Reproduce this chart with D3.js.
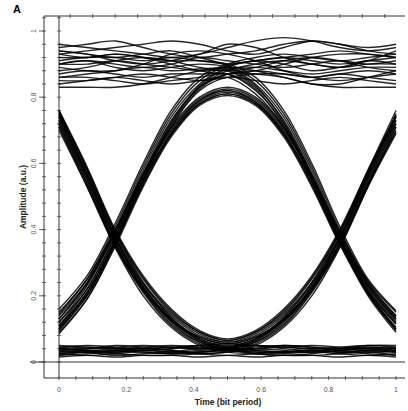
<!DOCTYPE html>
<html>
<head>
<meta charset="utf-8">
<script src="https://d3js.org/d3.v7.min.js"></script>
<style>
    body { margin: 0; background: white; }
    .frame { stroke: #333; stroke-width: 1px; fill: none; }
    .tick { stroke: #444; stroke-width: 0.8px; }
    .lbl { font-family: "Liberation Sans", Arial, sans-serif; font-size: 7px; fill: #555; }
    .title { font-family: "Liberation Sans", Arial, sans-serif; font-size: 8.5px; font-weight: bold; fill: #222; }
    .trace { fill: none; stroke: #000; stroke-width: 1.4px; stroke-opacity: 0.85; }
</style>
</head>
<body>
<div class="container"></div>
<script>
    // sample times of every trace (bit period units)
    let tGrid = [0, 0.083, 0.167, 0.25, 0.333, 0.417, 0.5, 0.583, 0.667, 0.75, 0.833, 0.917, 1];

    // traces grouped by 3-bit pattern, amplitude
    let pat010 = [
        [0.12, 0.22, 0.38, 0.55, 0.69, 0.78, 0.81, 0.78, 0.69, 0.55, 0.38, 0.23, 0.13],
        [0.10, 0.20, 0.36, 0.54, 0.69, 0.785, 0.815, 0.785, 0.695, 0.54, 0.365, 0.215, 0.115],
        [0.15, 0.25, 0.40, 0.57, 0.71, 0.80, 0.83, 0.80, 0.71, 0.565, 0.395, 0.245, 0.15],
        [0.13, 0.235, 0.39, 0.56, 0.70, 0.79, 0.82, 0.79, 0.70, 0.56, 0.385, 0.235, 0.135],
        [0.085, 0.19, 0.35, 0.53, 0.68, 0.775, 0.805, 0.775, 0.68, 0.53, 0.355, 0.205, 0.095],
        [0.11, 0.21, 0.37, 0.545, 0.695, 0.79, 0.82, 0.785, 0.69, 0.545, 0.375, 0.225, 0.125],
        [0.14, 0.24, 0.395, 0.565, 0.705, 0.795, 0.825, 0.795, 0.705, 0.555, 0.39, 0.24, 0.14],
        [0.095, 0.20, 0.36, 0.535, 0.685, 0.78, 0.81, 0.78, 0.685, 0.535, 0.36, 0.21, 0.105]
    ];
    let pat011 = [
        [0.12, 0.23, 0.39, 0.57, 0.73, 0.83, 0.88, 0.90, 0.91, 0.90, 0.89, 0.90, 0.90],
        [0.10, 0.21, 0.37, 0.56, 0.72, 0.83, 0.87, 0.88, 0.87, 0.86, 0.87, 0.88, 0.87],
        [0.16, 0.26, 0.42, 0.60, 0.76, 0.86, 0.90, 0.92, 0.93, 0.92, 0.91, 0.92, 0.93],
        [0.13, 0.24, 0.40, 0.58, 0.74, 0.84, 0.89, 0.91, 0.90, 0.88, 0.89, 0.91, 0.90],
        [0.09, 0.19, 0.355, 0.55, 0.71, 0.82, 0.86, 0.85, 0.84, 0.85, 0.86, 0.85, 0.84],
        [0.11, 0.22, 0.38, 0.565, 0.725, 0.835, 0.885, 0.89, 0.88, 0.87, 0.88, 0.89, 0.89],
        [0.145, 0.25, 0.41, 0.59, 0.75, 0.85, 0.895, 0.91, 0.92, 0.93, 0.94, 0.93, 0.92],
        [0.105, 0.205, 0.365, 0.55, 0.715, 0.825, 0.87, 0.87, 0.86, 0.84, 0.84, 0.86, 0.88]
    ];
    let pat110 = [
        [0.90, 0.90, 0.91, 0.90, 0.89, 0.88, 0.88, 0.83, 0.73, 0.57, 0.38, 0.22, 0.12],
        [0.87, 0.88, 0.87, 0.86, 0.87, 0.87, 0.87, 0.82, 0.72, 0.56, 0.37, 0.21, 0.10],
        [0.93, 0.92, 0.93, 0.92, 0.91, 0.91, 0.90, 0.86, 0.76, 0.60, 0.41, 0.25, 0.155],
        [0.90, 0.91, 0.89, 0.88, 0.89, 0.90, 0.89, 0.84, 0.74, 0.58, 0.39, 0.23, 0.13],
        [0.84, 0.85, 0.86, 0.85, 0.84, 0.85, 0.86, 0.81, 0.71, 0.55, 0.36, 0.20, 0.09],
        [0.89, 0.88, 0.88, 0.89, 0.88, 0.885, 0.885, 0.835, 0.725, 0.565, 0.375, 0.215, 0.115],
        [0.94, 0.93, 0.92, 0.93, 0.94, 0.92, 0.895, 0.85, 0.75, 0.59, 0.40, 0.24, 0.14],
        [0.86, 0.86, 0.85, 0.84, 0.85, 0.86, 0.87, 0.825, 0.715, 0.555, 0.365, 0.205, 0.10]
    ];
    let pat111 = [
        [0.93, 0.94, 0.95, 0.96, 0.97, 0.96, 0.94, 0.93, 0.95, 0.97, 0.96, 0.94, 0.93],
        [0.90, 0.91, 0.90, 0.89, 0.90, 0.92, 0.91, 0.90, 0.89, 0.90, 0.91, 0.90, 0.91],
        [0.83, 0.83, 0.83, 0.84, 0.86, 0.88, 0.89, 0.88, 0.86, 0.84, 0.83, 0.83, 0.83],
        [0.96, 0.95, 0.94, 0.93, 0.92, 0.93, 0.95, 0.97, 0.98, 0.97, 0.95, 0.94, 0.95],
        [0.88, 0.89, 0.91, 0.92, 0.91, 0.89, 0.88, 0.89, 0.91, 0.92, 0.91, 0.89, 0.88],
        [0.92, 0.92, 0.93, 0.92, 0.90, 0.88, 0.87, 0.88, 0.90, 0.92, 0.93, 0.93, 0.92],
        [0.86, 0.87, 0.88, 0.90, 0.93, 0.94, 0.93, 0.91, 0.88, 0.86, 0.85, 0.86, 0.87],
        [0.94, 0.93, 0.91, 0.90, 0.91, 0.93, 0.96, 0.95, 0.92, 0.90, 0.89, 0.91, 0.94],
        [0.91, 0.92, 0.92, 0.91, 0.92, 0.91, 0.90, 0.91, 0.92, 0.91, 0.90, 0.91, 0.92],
        [0.85, 0.85, 0.86, 0.87, 0.86, 0.85, 0.86, 0.87, 0.87, 0.86, 0.87, 0.86, 0.85],
        [0.95, 0.96, 0.97, 0.95, 0.93, 0.92, 0.93, 0.94, 0.96, 0.97, 0.96, 0.95, 0.96]
    ];
    let pat101 = [
        [0.74, 0.57, 0.38, 0.24, 0.145, 0.085, 0.06, 0.085, 0.145, 0.24, 0.38, 0.56, 0.72],
        [0.76, 0.59, 0.40, 0.26, 0.16, 0.095, 0.07, 0.095, 0.16, 0.26, 0.40, 0.58, 0.745],
        [0.72, 0.55, 0.36, 0.225, 0.13, 0.075, 0.055, 0.075, 0.13, 0.225, 0.36, 0.54, 0.70],
        [0.75, 0.58, 0.39, 0.25, 0.15, 0.09, 0.065, 0.09, 0.15, 0.25, 0.39, 0.57, 0.73],
        [0.70, 0.53, 0.35, 0.215, 0.125, 0.07, 0.05, 0.07, 0.125, 0.215, 0.35, 0.53, 0.69],
        [0.73, 0.56, 0.37, 0.235, 0.14, 0.08, 0.06, 0.08, 0.14, 0.235, 0.37, 0.55, 0.71],
        [0.755, 0.585, 0.395, 0.255, 0.155, 0.09, 0.065, 0.09, 0.155, 0.255, 0.395, 0.575, 0.74],
        [0.71, 0.54, 0.355, 0.22, 0.13, 0.075, 0.055, 0.075, 0.13, 0.22, 0.355, 0.535, 0.695]
    ];
    let pat100 = [
        [0.74, 0.56, 0.37, 0.22, 0.12, 0.06, 0.04, 0.035, 0.03, 0.035, 0.03, 0.035, 0.03],
        [0.76, 0.58, 0.39, 0.24, 0.135, 0.07, 0.045, 0.04, 0.045, 0.04, 0.04, 0.045, 0.04],
        [0.72, 0.54, 0.35, 0.21, 0.11, 0.055, 0.035, 0.03, 0.025, 0.03, 0.025, 0.02, 0.025],
        [0.75, 0.57, 0.38, 0.23, 0.13, 0.065, 0.04, 0.045, 0.05, 0.045, 0.04, 0.035, 0.04],
        [0.71, 0.53, 0.345, 0.20, 0.105, 0.05, 0.03, 0.025, 0.02, 0.02, 0.025, 0.03, 0.02],
        [0.73, 0.55, 0.36, 0.215, 0.115, 0.06, 0.04, 0.04, 0.035, 0.03, 0.035, 0.04, 0.035],
        [0.745, 0.565, 0.375, 0.225, 0.125, 0.065, 0.045, 0.05, 0.045, 0.05, 0.045, 0.04, 0.045]
    ];
    let pat001 = [
        [0.03, 0.035, 0.03, 0.035, 0.03, 0.035, 0.04, 0.06, 0.12, 0.22, 0.37, 0.56, 0.74],
        [0.04, 0.045, 0.04, 0.04, 0.045, 0.04, 0.045, 0.07, 0.135, 0.24, 0.39, 0.58, 0.76],
        [0.025, 0.02, 0.025, 0.03, 0.025, 0.03, 0.035, 0.055, 0.11, 0.21, 0.35, 0.54, 0.72],
        [0.04, 0.035, 0.04, 0.045, 0.05, 0.045, 0.04, 0.065, 0.13, 0.23, 0.38, 0.57, 0.75],
        [0.02, 0.03, 0.025, 0.02, 0.02, 0.025, 0.03, 0.05, 0.105, 0.20, 0.345, 0.53, 0.71],
        [0.035, 0.03, 0.035, 0.04, 0.035, 0.03, 0.04, 0.06, 0.115, 0.215, 0.36, 0.55, 0.73],
        [0.045, 0.05, 0.045, 0.04, 0.045, 0.05, 0.045, 0.065, 0.125, 0.225, 0.375, 0.565, 0.745]
    ];
    let pat000 = [
        [0.03, 0.03, 0.035, 0.03, 0.025, 0.03, 0.035, 0.03, 0.03, 0.035, 0.03, 0.03, 0.03],
        [0.045, 0.04, 0.045, 0.05, 0.045, 0.04, 0.045, 0.05, 0.045, 0.04, 0.045, 0.05, 0.045],
        [0.015, 0.02, 0.015, 0.02, 0.02, 0.015, 0.02, 0.015, 0.02, 0.02, 0.015, 0.02, 0.015],
        [0.025, 0.03, 0.02, 0.025, 0.03, 0.04, 0.035, 0.025, 0.02, 0.025, 0.035, 0.04, 0.03],
        [0.05, 0.045, 0.04, 0.035, 0.04, 0.05, 0.055, 0.05, 0.04, 0.035, 0.04, 0.05, 0.05],
        [0.035, 0.04, 0.05, 0.045, 0.035, 0.025, 0.03, 0.04, 0.05, 0.045, 0.035, 0.03, 0.035],
        [0.02, 0.025, 0.03, 0.035, 0.03, 0.025, 0.02, 0.025, 0.03, 0.035, 0.03, 0.025, 0.02],
        [0.04, 0.035, 0.03, 0.035, 0.04, 0.045, 0.04, 0.035, 0.03, 0.03, 0.04, 0.045, 0.04]
    ];

    let xTickLabels = [0, 0.2, 0.4, 0.6, 0.8, 1];
    let yTickLabels = [0, 0.2, 0.4, 0.6, 0.8, 1];

    let W = 408, H = 411;
    let svg = d3.select(".container").append("svg").attr("width", W).attr("height", H);

    let x = d3.scaleLinear().domain([0, 1]).range([59, 396]);
    let y = d3.scaleLinear().domain([0, 1]).range([362, 31]);

    let outerLeft = 44, topY = 16, bottomY = 378, rightX = 405;

    // frame lines
    svg.append("line").attr("class", "frame")
        .attr("x1", outerLeft).attr("x2", outerLeft).attr("y1", topY).attr("y2", bottomY);
    svg.append("line").attr("class", "frame")
        .attr("x1", x(0)).attr("x2", x(0)).attr("y1", topY).attr("y2", bottomY);
    svg.append("line").attr("class", "frame")
        .attr("x1", outerLeft).attr("x2", rightX).attr("y1", topY).attr("y2", topY);
    svg.append("line").attr("class", "frame")
        .attr("x1", outerLeft).attr("x2", rightX).attr("y1", bottomY).attr("y2", bottomY);
    svg.append("line").attr("class", "frame")
        .attr("x1", 30).attr("x2", rightX).attr("y1", y(0)).attr("y2", y(0));

    // minor ticks
    let yMinor = d3.range(0, 1.05, 0.04);
    [outerLeft, x(0)].forEach(function(px){
        svg.append("g").selectAll("line").data(yMinor).enter().append("line")
            .attr("class", "tick")
            .attr("x1", px - 2).attr("x2", px + 2)
            .attr("y1", function(d){ return y(d); }).attr("y2", function(d){ return y(d); });
    });
    svg.append("g").selectAll("line").data(d3.range(0, 1.03, 0.05)).enter().append("line")
        .attr("class", "tick")
        .attr("x1", function(d){ return x(d); }).attr("x2", function(d){ return x(d); })
        .attr("y1", bottomY - 2).attr("y2", bottomY + 2);
    svg.append("g").selectAll("line").data(d3.range(1/30, 1, 1/15)).enter().append("line")
        .attr("class", "tick")
        .attr("x1", function(d){ return x(d); }).attr("x2", function(d){ return x(d); })
        .attr("y1", topY - 2).attr("y2", topY + 2);

    // major ticks on left
    svg.append("g").selectAll("line").data(yTickLabels).enter().append("line")
        .attr("class", "tick")
        .attr("x1", outerLeft - 5).attr("x2", outerLeft)
        .attr("y1", function(d){ return y(d); }).attr("y2", function(d){ return y(d); });

    // tick labels
    svg.append("g").selectAll("text").data(yTickLabels).enter().append("text")
        .attr("class", "lbl")
        .attr("text-anchor", "middle")
        .attr("transform", function(d){ return "translate(36," + y(d) + ") rotate(-90)"; })
        .text(function(d){ return d; });
    svg.append("g").selectAll("text").data(xTickLabels).enter().append("text")
        .attr("class", "lbl")
        .attr("text-anchor", "middle")
        .attr("x", function(d){ return x(d); })
        .attr("y", 392)
        .text(function(d){ return d; });

    // titles
    svg.append("text").attr("class", "title")
        .attr("text-anchor", "middle")
        .attr("x", 228).attr("y", 405)
        .text("Time (bit period)");
    svg.append("text").attr("class", "title")
        .attr("text-anchor", "middle")
        .attr("transform", "translate(26,197) rotate(-90)")
        .text("Amplitude (a.u.)");
    svg.append("text")
        .attr("x", 13).attr("y", 13)
        .style("font-family", "Liberation Sans, Arial, sans-serif")
        .style("font-size", "11px")
        .style("font-weight", "bold")
        .text("A");

    // eye traces
    let line = d3.line()
        .x(function(d, i){ return x(tGrid[i]); })
        .y(function(d){ return y(d); })
        .curve(d3.curveCatmullRom.alpha(0.5));

    let allTraces = [].concat(pat111, pat000, pat010, pat011, pat110, pat101, pat100, pat001);
    svg.append("g").selectAll("path")
        .data(allTraces)
        .enter().append("path")
        .attr("class", "trace")
        .attr("d", line);
</script>
</body>
</html>
